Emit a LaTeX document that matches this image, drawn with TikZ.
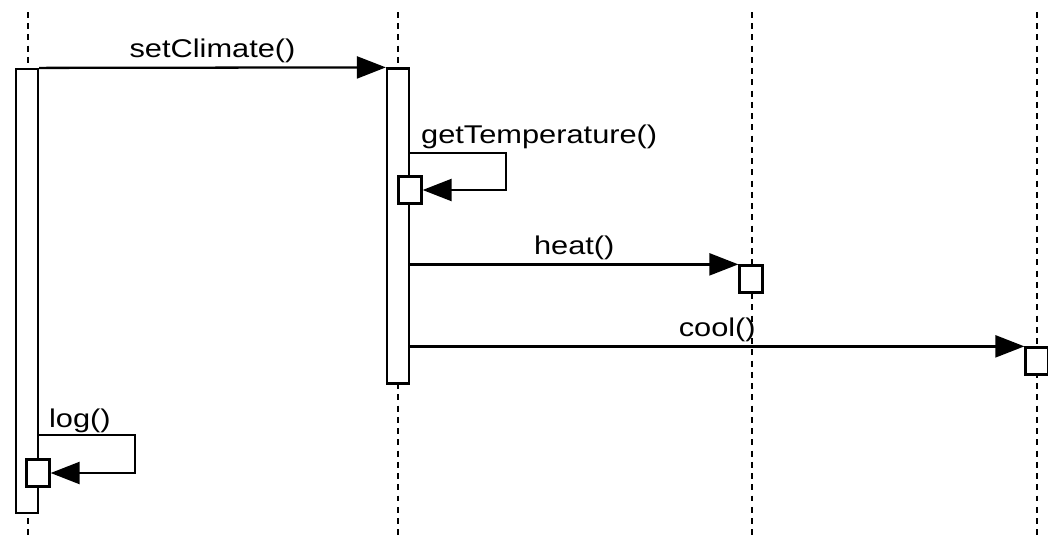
\documentclass[tikz,border=0pt]{standalone}
\usepackage{fontspec}
\setmainfont{Liberation Sans}[FakeStretch=1.2]
\usetikzlibrary{arrows.meta}

\begin{document}
\begin{tikzpicture}[x=0.02cm, y=-0.02cm, line width=1.3pt,
    life/.style={dash pattern=on 3.4pt off 3pt},
    bar/.style={draw, fill=white, minimum width=0.44cm, inner sep=0pt},
    act/.style={draw, fill=white, minimum width=0.46cm, minimum height=0.54cm, inner sep=0pt},
    msg/.style={-{Triangle[length=0.58cm,width=0.44cm]}},
    lbl/.style={font=\fontsize{14.6}{17}\selectfont, inner sep=0pt, anchor=base, yshift=0.2cm}]
  \useasboundingbox (0,0) rectangle (1048,541);
  % lifelines, drawn first so the boxes cover them
  \foreach \x/\n in {28/1, 398/2, 752/3, 1037/4} {
    \coordinate (top\n) at (\x,12);
    \coordinate (bot\n) at (\x,539);
    \draw[life] (top\n) -- (bot\n);
  }
  % activation bars and boxes
  \node[bar, minimum height=8.88cm] (bar1) at (27,291) {};
  \node[bar, minimum height=6.3cm] (bar2) at (398,226) {};
  \node[act] (gtbox) at (410,190) {};
  \node[act] (logbox) at (38,473) {};
  \node[act] (hbox) at (751,279) {};
  \node[act] (cbox) at (1037,361) {};
  \coordinate (gt) at (409,153);
  \coordinate (lg) at (38,435);
  % messages
  \draw[msg] (bar1.north east) -- node[lbl] (lsc) {setClimate()} (bar2.north west);
  \draw[msg] (gt) -- node[lbl, pos=0, anchor=base west, xshift=0.22cm] (lgt) {getTemperature()}
             ++(97,0) |- (gtbox.east);
  \draw[msg] (bar2.east |- hbox.north west) -- node[lbl] (lh) {heat()} (hbox.north west);
  \draw[msg] (bar2.east |- cbox.north west) -- node[lbl] (lc) {cool()} (cbox.north west);
  \draw[msg] (lg) -- node[lbl, pos=0, anchor=base west, xshift=0.2cm, yshift=-0.04cm] (llg) {log()}
             ++(97,0) |- (logbox.east);
\end{tikzpicture}
\end{document}
